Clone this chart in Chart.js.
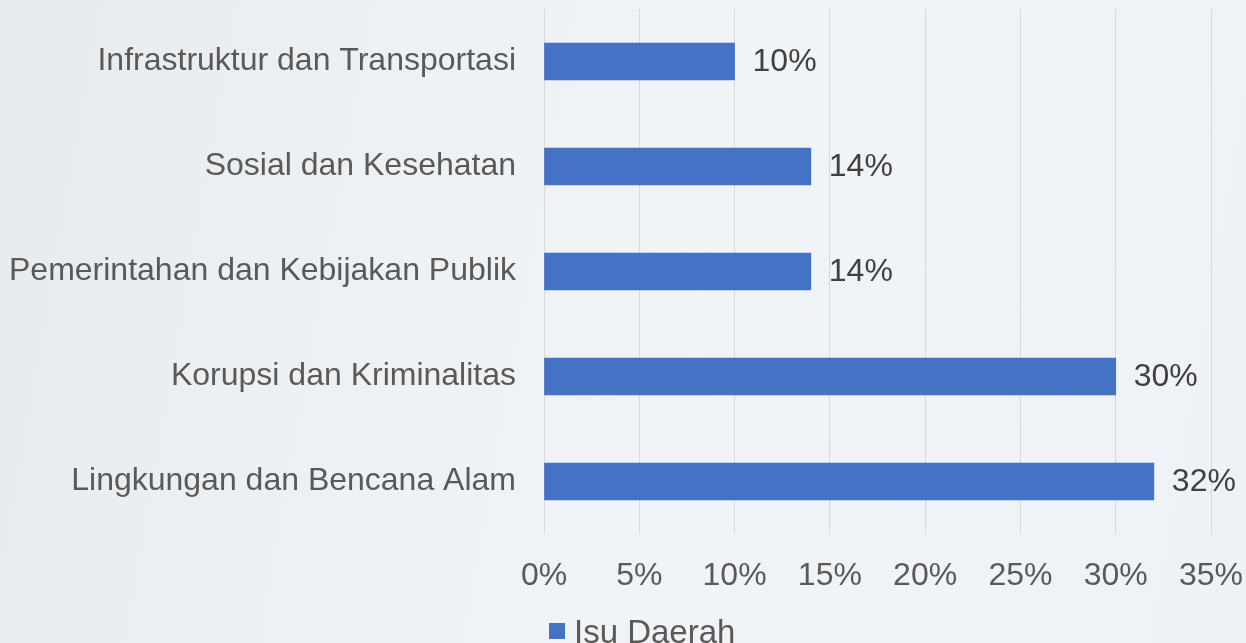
<!DOCTYPE html>
<html>
<head>
<meta charset="utf-8">
<script src="https://cdn.jsdelivr.net/npm/chart.js@4/dist/chart.umd.min.js"></script>
<style>
  html, body { margin: 0; padding: 0; }
  body {
    width: 1246px; height: 643px; overflow: hidden;
    background: linear-gradient(100deg, #e8ebee 0%, #eef1f4 30%, #f1f4f7 55%, #eef2f6 100%);
  }
  #wrap { position: relative; width: 1246px; height: 643px; }
</style>
</head>
<body>
<div id="wrap"><canvas id="c" width="1246" height="643"></canvas></div>
<script>
const categories = [
  "Infrastruktur dan Transportasi",
  "Sosial dan Kesehatan",
  "Pemerintahan dan Kebijakan Publik",
  "Korupsi dan Kriminalitas",
  "Lingkungan dan Bencana Alam"
];
const values = [10, 14, 14, 30, 32];
const seriesName = "Isu Daerah";
const xTicks = [0, 5, 10, 15, 20, 25, 30, 35];

const FONT = "'Liberation Sans', Arial, sans-serif";
const FSIZE = 32;

const dataLabels = {
  id: 'dataLabels',
  afterDatasetsDraw(chart) {
    const ctx = chart.ctx;
    const meta = chart.getDatasetMeta(0);
    ctx.save();
    ctx.font = FSIZE + "px " + FONT;
    ctx.fillStyle = "#404040";
    ctx.textAlign = "left";
    ctx.textBaseline = "middle";
    meta.data.forEach((bar, i) => {
      ctx.fillText(values[i] + "%", bar.x + 18, bar.y + 1);
    });
    ctx.restore();
  }
};

const customLegend = {
  id: 'customLegend',
  afterDraw(chart) {
    const ctx = chart.ctx;
    const ds = chart.data.datasets[0];
    ctx.save();
    ctx.fillStyle = ds.backgroundColor;
    ctx.fillRect(549, 623, 16, 16);
    ctx.font = "33px " + FONT;
    ctx.fillStyle = "#595959";
    ctx.textAlign = "left";
    ctx.textBaseline = "alphabetic";
    ctx.fillText(ds.label, 574, 643);
    ctx.restore();
  }
};

new Chart(document.getElementById('c'), {
  type: 'bar',
  data: {
    labels: categories,
    datasets: [{
      label: seriesName,
      data: values,
      backgroundColor: "#4472C4",
      borderWidth: 0,
      barThickness: 37
    }]
  },
  options: {
    indexAxis: 'y',
    responsive: false,
    animation: false,
    devicePixelRatio: 1,
    layout: { padding: { top: 9, right: 35, left: 0, bottom: 0 } },
    scales: {
      x: {
        min: 0, max: 35,
        afterBuildTicks(scale) { scale.ticks = xTicks.map(v => ({ value: v })); },
        ticks: {
          color: "#595959",
          font: { family: FONT, size: FSIZE },
          padding: 23,
          maxRotation: 0,
          callback: v => v + "%"
        },
        grid: { color: "#d9d9d9", lineWidth: 1, drawTicks: false },
        border: { display: false },
        afterFit(scale) {
          scale.height = 109;
          scale.paddingLeft = 0; scale.paddingRight = 0;
          scale.paddingTop = 0; scale.paddingBottom = 0;
        }
      },
      y: {
        ticks: {
          color: "#595959",
          font: { family: FONT, size: FSIZE },
          padding: 28
        },
        grid: { display: false, drawTicks: false },
        border: { display: false },
        afterFit(scale) {
          scale.width = 544;
          scale.paddingTop = 0; scale.paddingBottom = 0;
          scale.paddingLeft = 0; scale.paddingRight = 0;
        }
      }
    },
    plugins: {
      legend: { display: false },
      tooltip: { enabled: false }
    }
  },
  plugins: [dataLabels, customLegend]
});
</script>
</body>
</html>
